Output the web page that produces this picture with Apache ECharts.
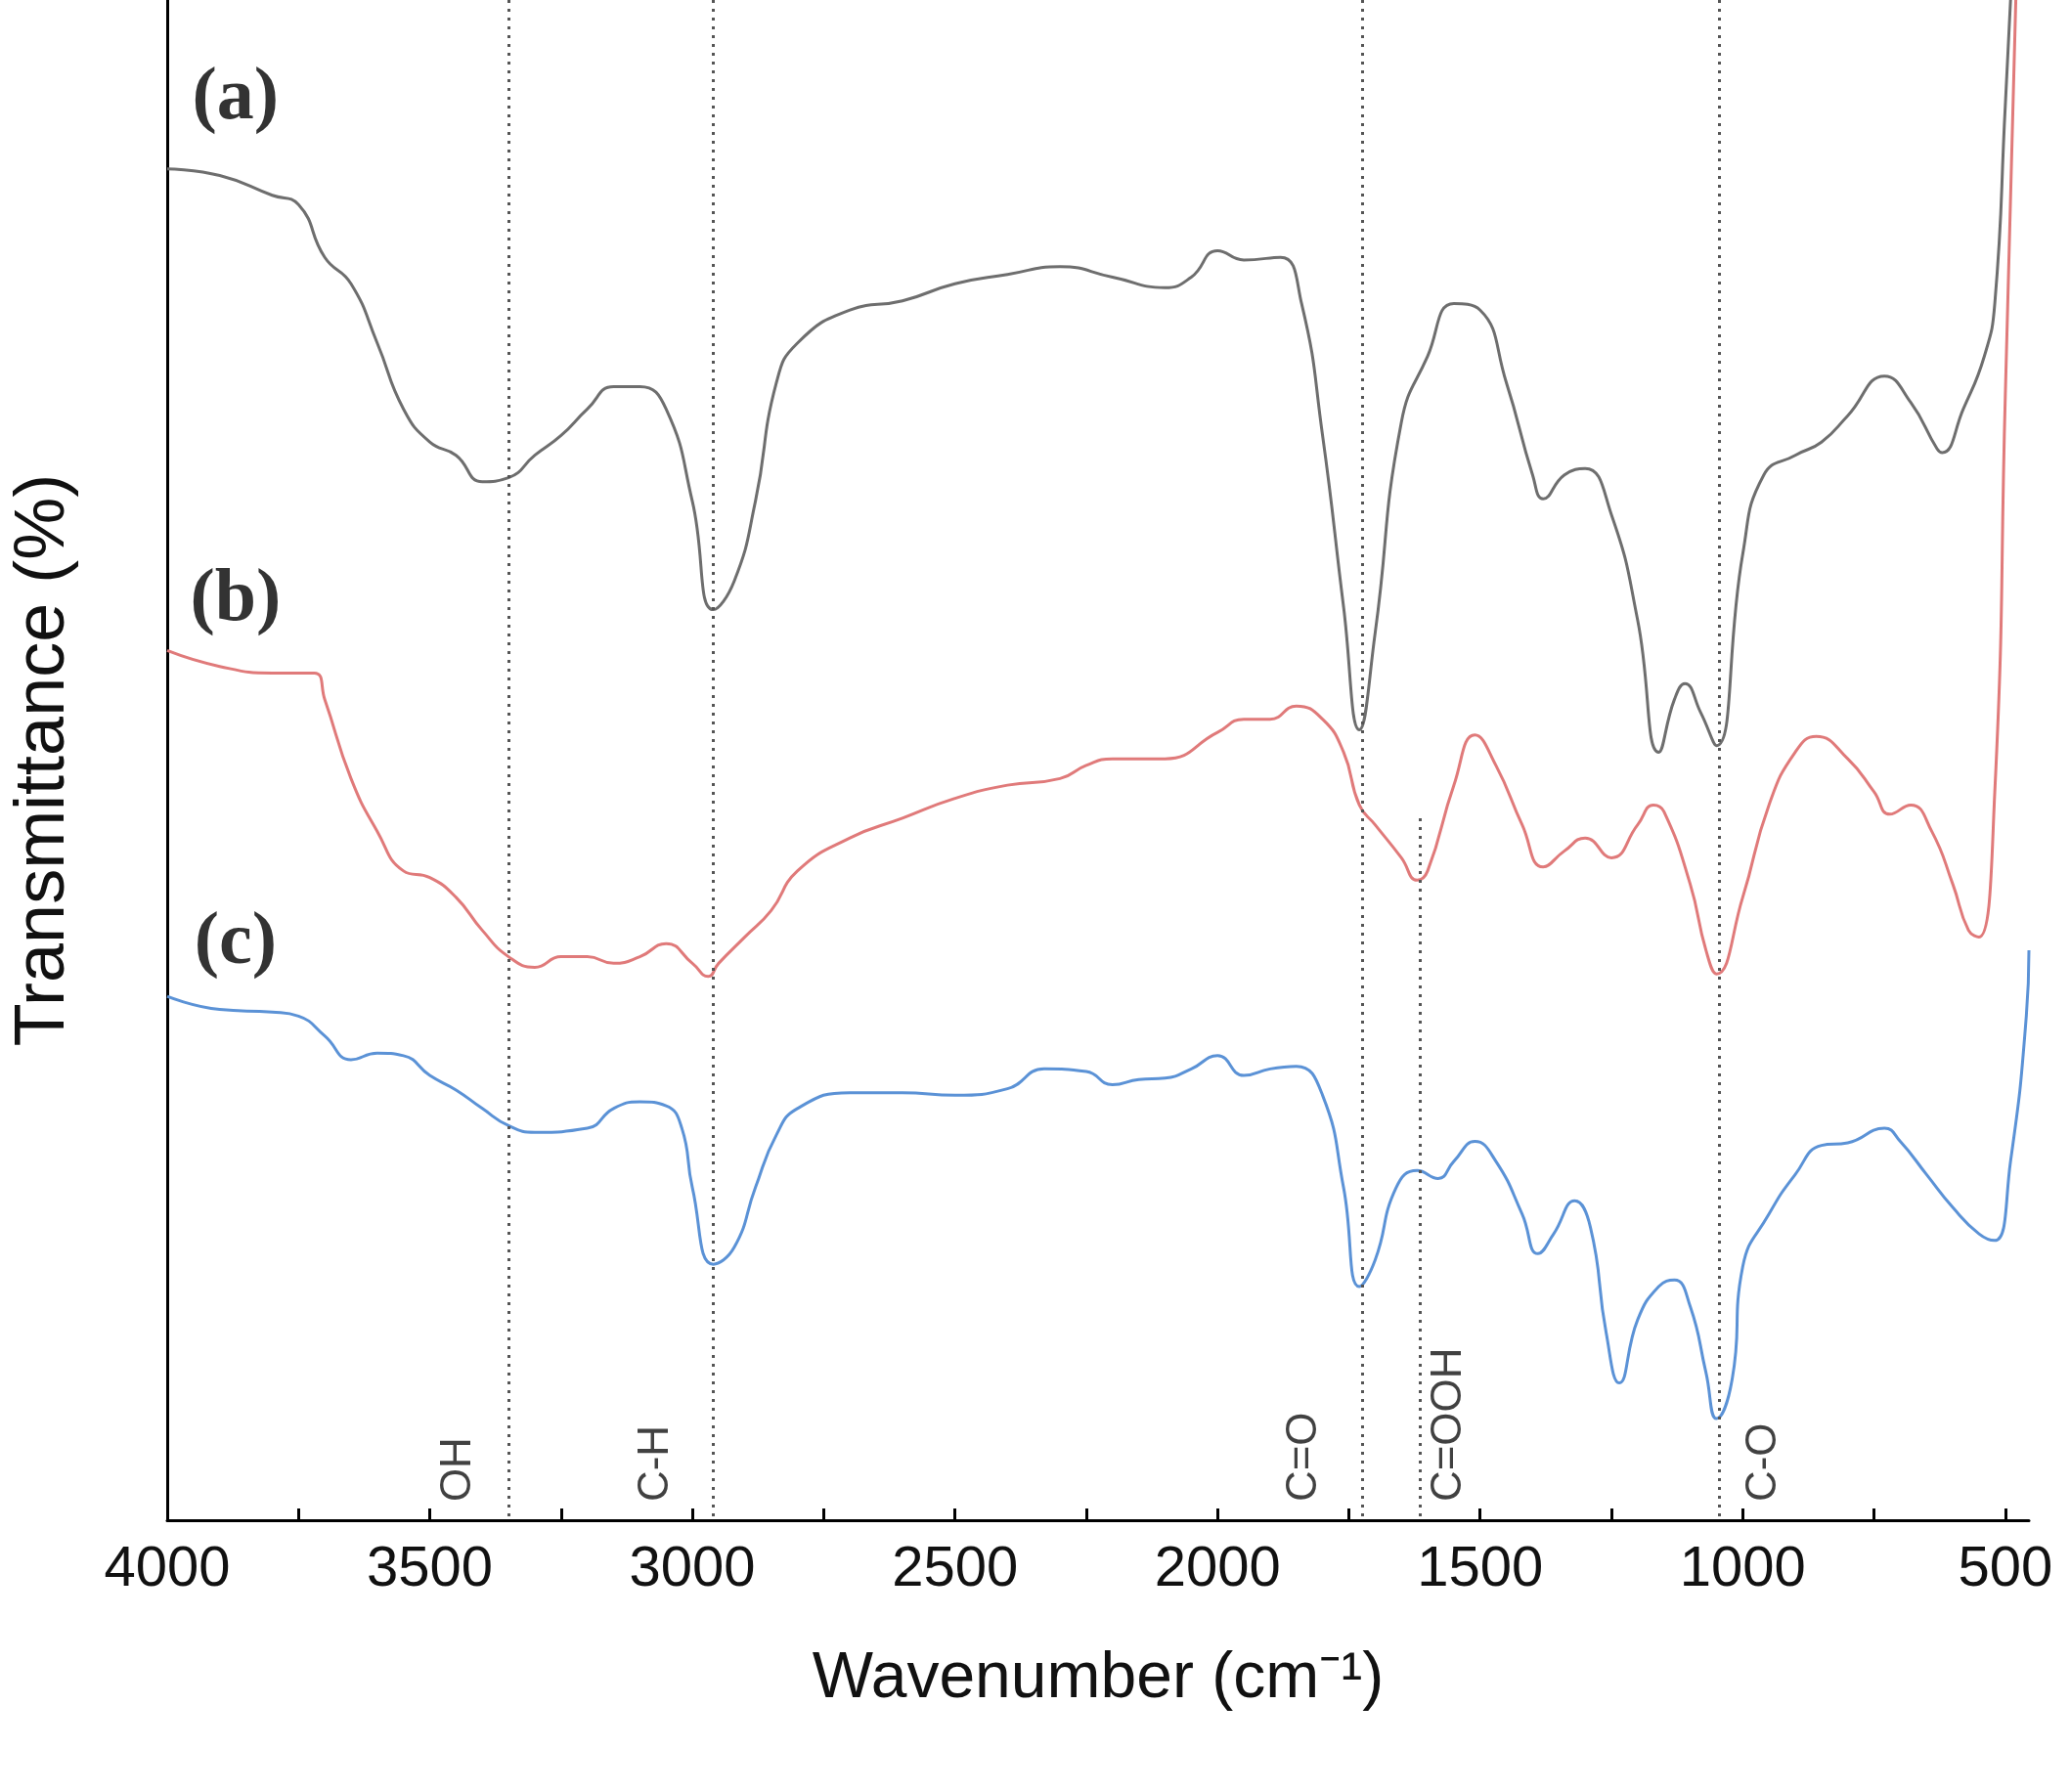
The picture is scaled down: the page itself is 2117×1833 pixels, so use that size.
<!DOCTYPE html>
<html><head><meta charset="utf-8">
<script src="https://cdn.jsdelivr.net/npm/echarts@6/dist/echarts.min.js"></script>
<style>html,body{margin:0;padding:0;background:#fff}#c{width:2117px;height:1833px}</style>
</head><body><div id="c"></div>
<script>
// [wavenumber, height] pairs, height read as 1152 - pixel row in reference
var rowsA = [[4000,128],[3900,133],[3800,148],[3750,155],[3700,195],[3650,215],[3600,260],[3550,310],[3500,335],[3450,345],[3400,365],[3350,362],[3300,345],[3250,330],[3200,310],[3150,293],[3100,293],[3050,310],[3000,380],[2960,462],[2920,440],[2880,380],[2840,290],[2800,260],[2700,235],[2600,228],[2500,215],[2400,208],[2300,202],[2200,210],[2100,218],[2050,210],[2000,190],[1950,197],[1880,195],[1840,230],[1800,330],[1760,460],[1730,553],[1700,480],[1650,320],[1600,270],[1550,230],[1500,235],[1450,290],[1400,360],[1380,378],[1340,360],[1300,355],[1250,390],[1200,470],[1160,570],[1130,530],[1110,518],[1080,540],[1050,565],[1000,420],[960,360],[900,345],[850,335],[800,315],[730,285],[680,305],[630,340],[620,343],[580,310],[540,270],[520,230],[500,80],[490,0]];
var rowsB = [[4000,493],[3900,505],[3800,510],[3720,510],[3700,530],[3650,590],[3600,630],[3550,660],[3500,665],[3450,680],[3400,705],[3350,725],[3300,733],[3250,725],[3200,725],[3150,730],[3100,725],[3050,715],[3000,730],[2970,740],[2950,730],[2900,710],[2850,690],[2800,660],[2700,635],[2600,620],[2500,605],[2400,595],[2300,590],[2250,580],[2200,575],[2100,575],[2000,555],[1950,545],[1900,545],[1850,535],[1800,545],[1760,570],[1730,610],[1700,625],[1650,650],[1620,667],[1600,660],[1550,595],[1510,557],[1470,580],[1420,625],[1380,657],[1340,645],[1300,635],[1250,650],[1200,625],[1170,610],[1150,615],[1100,670],[1070,720],[1050,738],[1000,680],[950,610],[900,570],[860,558],[800,575],[750,600],[720,617],[680,610],[640,630],[600,670],[570,705],[550,710],[520,600],[500,300],[480,0]];
var rowsC = [[4000,755],[3900,765],[3800,767],[3750,770],[3700,785],[3650,803],[3600,798],[3550,800],[3500,815],[3450,826],[3400,840],[3350,853],[3300,858],[3200,855],[3150,840],[3100,835],[3050,838],[3020,855],[3000,900],[2960,958],[2920,945],[2880,900],[2840,860],[2800,840],[2700,828],[2600,828],[2500,830],[2400,825],[2330,810],[2250,812],[2200,822],[2150,818],[2100,817],[2050,810],[2000,800],[1950,815],[1900,810],[1850,808],[1800,830],[1760,900],[1730,975],[1700,955],[1660,900],[1620,887],[1580,893],[1550,880],[1510,865],[1470,880],[1420,920],[1390,950],[1360,935],[1320,910],[1290,930],[1260,1010],[1235,1048],[1200,1000],[1160,975],[1130,970],[1100,990],[1070,1040],[1050,1075],[1020,1045],[1000,960],[950,920],[900,890],[850,868],[800,866],[730,855],[700,865],[650,890],[600,915],[550,935],[520,940],[490,880],[460,770],[455,720]];
var tickLabels = [500,1000,1500,2000,2500,3000,3500,4000];
var tickMarks = [500,750,1000,1250,1500,1750,2000,2250,2500,2750,3000,3250,3500,3750,4000];
var peaks = [{x:3350,name:'OH',lx:3445},{x:2960,name:'C-H',lx:3070},{x:1725,name:'C=O',lx:1835},{x:1615,name:'C=OOH',lx:1560,top:532},{x:1045,name:'C-O',lx:960}];
var panels = [{t:'(a)',y:75},{t:'(b)',y:455},{t:'(c)',y:715}];

function flip(rows){return rows.map(function(r){return [r[0],1152-r[1]];});}

var chart = echarts.init(document.getElementById('c'));
var markLines = peaks.map(function(p){
  return [{coord:[p.x, p.top || 1152]},{coord:[p.x,0]}];
});
var peakLabels = peaks.map(function(p){return {value:[p.lx,14],name:p.name};});
var panelLabels = panels.map(function(p){return {value:[3870,1152-p.y],name:p.t};});

chart.setOption({
  animation:false,
  grid:{left:171,right:42,top:0,bottom:278},
  xAxis:{type:'value',inverse:true,min:455,max:4000,
    name:'Wavenumber (cm\u207B\u00B9)',nameLocation:'middle',nameGap:130,
    nameTextStyle:{fontFamily:'Liberation Sans',fontSize:66,color:'#111'},
    axisLine:{lineStyle:{color:'#000',width:3}},
    axisTick:{show:true,inside:true,length:12,lineStyle:{color:'#000',width:3},customValues:tickMarks},
    axisLabel:{fontFamily:'Liberation Sans',fontSize:58,color:'#111',margin:22,customValues:tickLabels,
      formatter:function(v){return String(v);}},
    splitLine:{show:false}},
  yAxis:{type:'value',min:0,max:1152,
    name:'Transmittance (%)',nameLocation:'middle',nameGap:90,
    nameTextStyle:{fontFamily:'Liberation Sans',fontSize:72,color:'#111'},
    axisLine:{show:true,lineStyle:{color:'#000',width:3}},
    axisTick:{show:false},axisLabel:{show:false},splitLine:{show:false}},
  series:[
    {type:'line',data:flip(rowsA),smooth:0.5,symbol:'none',lineStyle:{color:'#6e6e6e',width:3},
      markLine:{silent:true,symbol:'none',label:{show:false},lineStyle:{type:[3,6],color:'#555',width:3},data:markLines}},
    {type:'line',data:flip(rowsB),smooth:0.5,symbol:'none',lineStyle:{color:'#e07a7a',width:3}},
    {type:'line',data:flip(rowsC),smooth:0.5,symbol:'none',lineStyle:{color:'#5b92d6',width:3}},
    {type:'scatter',data:peakLabels,symbolSize:0,
      label:{show:true,formatter:'{b}',rotate:90,position:'inside',align:'left',verticalAlign:'middle',
        fontFamily:'Liberation Sans',fontSize:44,color:'#111'}},
    {type:'scatter',data:panelLabels,symbolSize:0,
      label:{show:true,formatter:'{b}',position:'inside',
        fontFamily:'Liberation Serif',fontWeight:'bold',fontSize:76,color:'#000'}}
  ]
});
</script></body></html>
